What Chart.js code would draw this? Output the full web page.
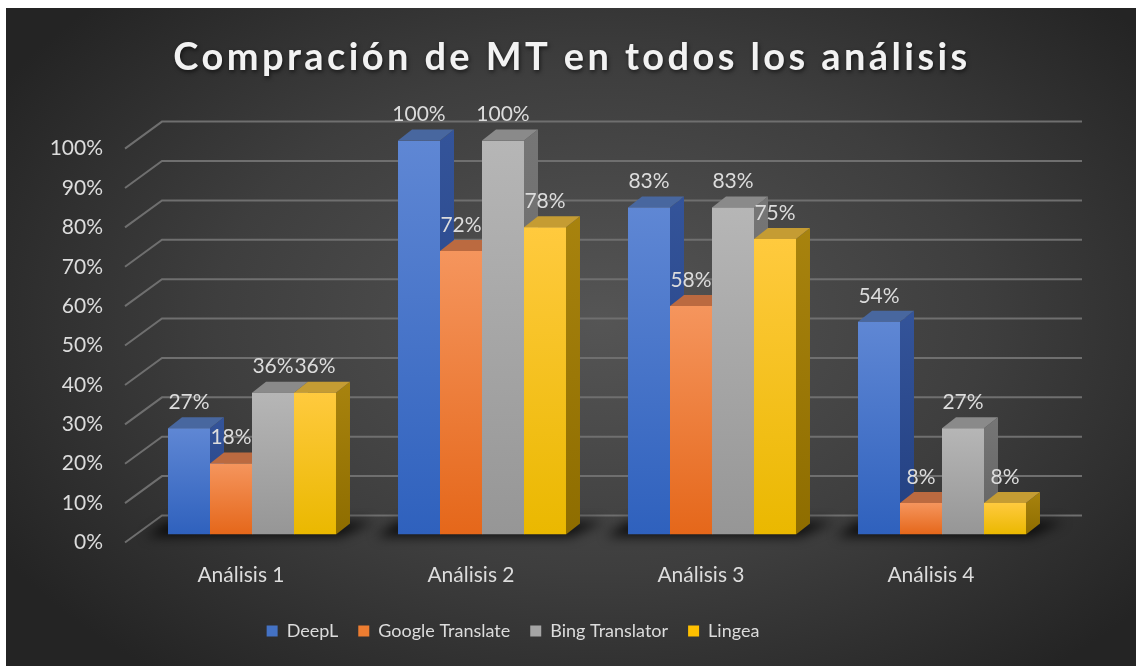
<!DOCTYPE html>
<html>
<head>
<meta charset="utf-8">
<script src="https://cdn.jsdelivr.net/npm/chart.js@4.4.0/dist/chart.umd.min.js"></script>
<style>
  html, body { margin: 0; padding: 0; background: #ffffff; }
  #wrap { position: absolute; left: 0; top: 0; width: 1136px; height: 666px; }
</style>
</head>
<body>
<div id="wrap"><canvas id="c" width="1136" height="666"></canvas></div>
<script>
// ---------- data ----------
const titleText = 'Compración de MT en todos los análisis';
const categories = ['Análisis 1', 'Análisis 2', 'Análisis 3', 'Análisis 4'];
const seriesNames = ['DeepL', 'Google Translate', 'Bing Translator', 'Lingea'];
const deeplValues = [27, 100, 83, 54];
const googleValues = [18, 72, 58, 8];
const bingValues = [36, 100, 83, 27];
const lingeaValues = [36, 78, 75, 8];
const yTickValues = [0, 10, 20, 30, 40, 50, 60, 70, 80, 90, 100];

// ---------- styles ----------
const palette = [
  { base: '#4472c4', front: ['#5f87d4', '#2f61bd'], side: ['#34549a', '#223f80'], top: '#48679f' },
  { base: '#ed7d31', front: ['#f5955d', '#e5671a'], side: ['#b45e2c', '#9c4c18'], top: '#bb6a40' },
  { base: '#a5a5a5', front: ['#b6b6b6', '#969696'], side: ['#767676', '#626262'], top: '#8a8a8a' },
  { base: '#ffc000', front: ['#ffca3e', '#eab800'], side: ['#a8830e', '#8e6d00'], top: '#c59c33' }
];
const DX = 14, DY = 11;
const FONT = 'Lato';
const TEXT = '#dcdcdc';

function frontFill(i) {
  return (ctx) => {
    const chart = ctx.chart;
    if (!chart.chartArea || ctx.type !== 'data' || !chart.scales.y) return palette[i].base;
    const ys = chart.scales.y;
    const top = ys.getPixelForValue(ctx.raw);
    const bot = ys.getPixelForValue(0);
    const g = chart.ctx.createLinearGradient(0, top, 0, bot);
    g.addColorStop(0, palette[i].front[0]);
    g.addColorStop(1, palette[i].front[1]);
    return g;
  };
}

const allValues = [deeplValues, googleValues, bingValues, lingeaValues];

const threeD = {
  id: 'threeD',
  beforeDraw(chart) {
    const ctx = chart.ctx;
    ctx.save();
    ctx.fillStyle = '#ffffff';
    ctx.fillRect(0, 0, chart.width, chart.height);
    const cx = 600, cy = 320, sy = 0.65;
    ctx.beginPath();
    ctx.rect(6, 8, chart.width - 6, chart.height - 8);
    ctx.clip();
    ctx.translate(cx, cy);
    ctx.scale(1, sy);
    const g = ctx.createRadialGradient(0, 0, 0, 0, 0, 700);
    g.addColorStop(0, '#555555');
    g.addColorStop(0.55, '#3e3e3e');
    g.addColorStop(1, '#242424');
    ctx.fillStyle = g;
    ctx.fillRect(-cx, -cy / sy, chart.width, chart.height / sy);
    ctx.restore();

    const tb = chart.titleBlock;
    if (tb && !tb._styled) {
      const orig = tb.draw.bind(tb);
      tb.draw = function (area) {
        const c = chart.ctx;
        c.save();
        c.letterSpacing = '3.4px';
        c.shadowColor = 'rgba(0,0,0,0.6)';
        c.shadowBlur = 4;
        c.shadowOffsetX = 1;
        c.shadowOffsetY = 2;
        orig(area);
        c.restore();
      };
      tb._styled = true;
    }
  },
  afterLayout(chart) {
    const tb = chart.titleBlock;
    if (tb) { const d = 572 - (tb.left + tb.right) / 2; tb.left += d; tb.right += d; }
    const lg = chart.legend;
    if (lg) { const d = 513 - (lg.left + lg.right) / 2; lg.left += d; lg.right += d; }
  },
  beforeDatasetsDraw(chart) {
    const ctx = chart.ctx;
    const ys = chart.scales.y;
    const a = chart.chartArea;
    ctx.save();
    ctx.strokeStyle = '#6f6f6f';
    ctx.lineWidth = 2;
    ys.ticks.forEach((t) => {
      const py = ys.getPixelForValue(t.value);
      ctx.beginPath();
      ctx.moveTo(a.left - 12, py + 8);
      ctx.lineTo(a.left + 25, py - 19);
      ctx.lineTo(a.right + 25, py - 19);
      ctx.stroke();
    });
    ctx.restore();

    const metas = chart.getSortedVisibleDatasetMetas();
    for (let j = 0; j < categories.length; j++) {
      const f = metas[0].data[j], l = metas[metas.length - 1].data[j];
      const L = f.x - f.width / 2, R = l.x + l.width / 2, B = f.base;
      ctx.save();
      ctx.filter = 'blur(6px)';
      ctx.fillStyle = 'rgba(0,0,0,0.8)';
      ctx.beginPath();
      ctx.moveTo(L - 22, B + 2);
      ctx.lineTo(R + 4, B + 2);
      ctx.lineTo(R + DX + 24, B - DY - 2);
      ctx.lineTo(L + DX - 14, B - DY - 2);
      ctx.closePath();
      ctx.fill();
      ctx.restore();
    }
    for (let j = 0; j < categories.length; j++) {
      metas.forEach((m, i) => {
        const el = m.data[j];
        const L = el.x - el.width / 2, R = el.x + el.width / 2, T = el.y, B = el.base;
        ctx.save();
        const sg = ctx.createLinearGradient(0, T - DY, 0, B);
        sg.addColorStop(0, palette[i].side[0]);
        sg.addColorStop(1, palette[i].side[1]);
        ctx.fillStyle = sg;
        ctx.beginPath();
        ctx.moveTo(R, T);
        ctx.lineTo(R + DX, T - DY);
        ctx.lineTo(R + DX, B - DY);
        ctx.lineTo(R, B);
        ctx.closePath();
        ctx.fill();
        ctx.fillStyle = palette[i].top;
        ctx.beginPath();
        ctx.moveTo(L, T);
        ctx.lineTo(L + DX, T - DY);
        ctx.lineTo(R + DX, T - DY);
        ctx.lineTo(R, T);
        ctx.closePath();
        ctx.fill();
        ctx.restore();
      });
    }
  },
  afterDatasetsDraw(chart) {
    const ctx = chart.ctx;
    ctx.save();
    ctx.font = '21px ' + FONT;
    ctx.fillStyle = TEXT;
    ctx.textAlign = 'center';
    ctx.textBaseline = 'middle';
    chart.getSortedVisibleDatasetMetas().forEach((m) => {
      const vals = chart.data.datasets[m.index].data;
      m.data.forEach((el, j) => {
        ctx.fillText(vals[j] + '%', el.x, el.y - 26);
      });
    });
    ctx.restore();
  }
};

const datasets = seriesNames.map((name, i) => ({
  label: name,
  data: allValues[i],
  backgroundColor: frontFill(i),
  borderWidth: 0,
  categoryPercentage: 0.7304,
  barPercentage: 1.0
}));

new Chart(document.getElementById('c'), {
  type: 'bar',
  data: { labels: categories, datasets },
  options: {
    responsive: false,
    animation: false,
    devicePixelRatio: 1,
    layout: { padding: { left: 6, top: 8, right: 79, bottom: 16 } },
    plugins: {
      title: {
        display: true,
        text: titleText,
        color: '#f2f2f2',
        font: { family: FONT, size: 38, weight: 'bold' },
        padding: { top: 27, bottom: 60 }
      },
      legend: {
        position: 'bottom',
        labels: {
          color: TEXT,
          font: { family: FONT, size: 18 },
          boxWidth: 11,
          boxHeight: 11,
          padding: 20,
          generateLabels: () => seriesNames.map((n, i) => ({
            text: n, fillStyle: palette[i].base, strokeStyle: palette[i].base,
            lineWidth: 0, hidden: false, datasetIndex: i, fontColor: TEXT
          }))
        }
      },
      tooltip: { enabled: false }
    },
    scales: {
      x: {
        grid: { display: false, drawTicks: false },
        border: { display: false },
        ticks: { color: TEXT, font: { family: FONT, size: 21 }, padding: 28, labelOffset: -11 },
        afterFit(s) { s.height = 67.5; }
      },
      y: {
        min: 0,
        max: 100,
        grid: { display: false, drawTicks: false },
        border: { display: false },
        afterBuildTicks(s) { s.ticks = yTickValues.map((v) => ({ value: v })); },
        ticks: { color: TEXT, font: { family: FONT, size: 21 }, padding: 34, labelOffset: 8, callback: (v) => v + '%' },
        afterFit(s) { s.width = 131; }
      }
    }
  },
  plugins: [threeD]
});
</script>
</body>
</html>
